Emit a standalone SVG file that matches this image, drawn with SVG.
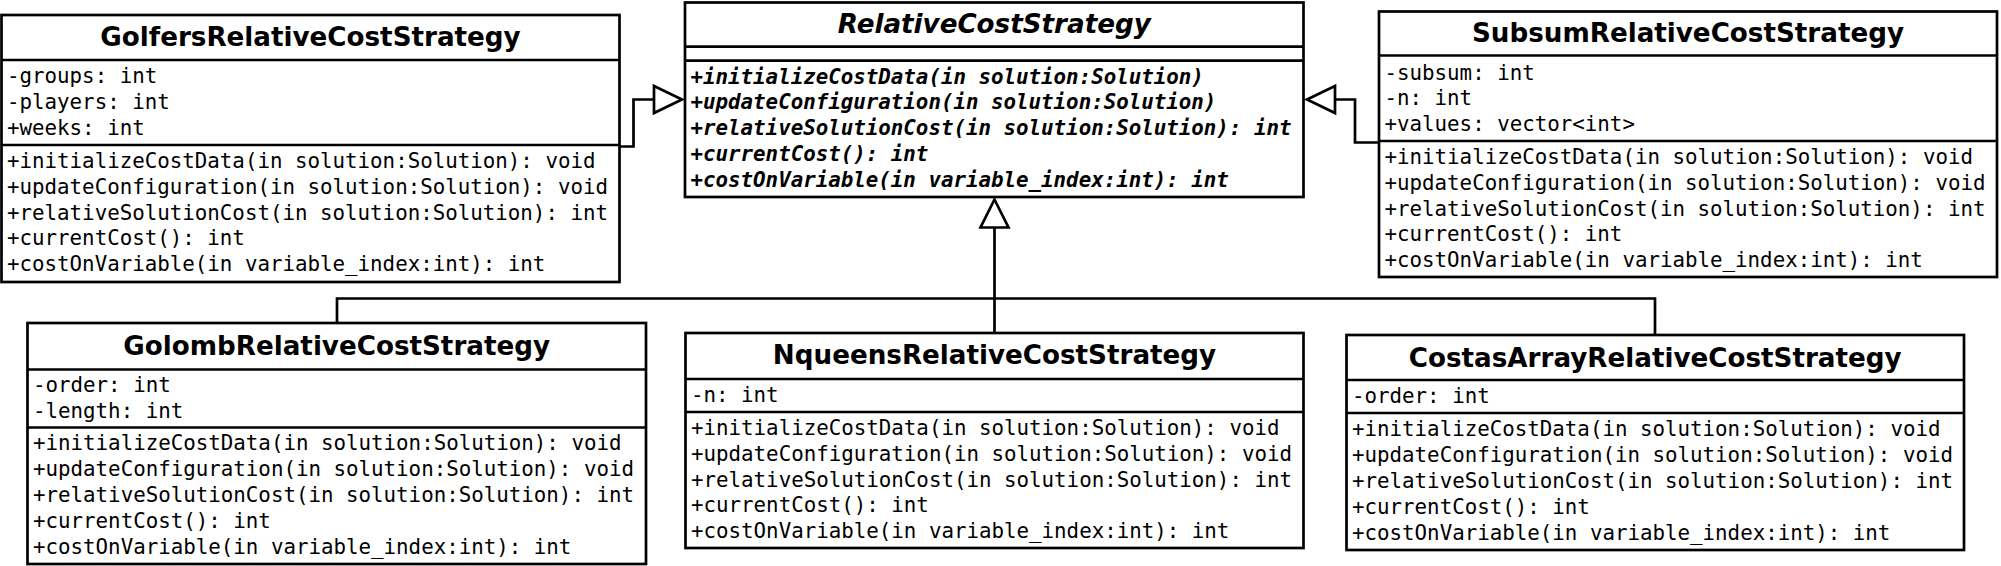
<svg xmlns="http://www.w3.org/2000/svg" width="2001" height="566" viewBox="0 0 2001 566">
<style>
.box{fill:#fff;stroke:#000;stroke-width:2.7}
.sep{stroke:#000;stroke-width:2.7}
.title{font-family:"DejaVu Sans",sans-serif;font-weight:bold;font-size:26.2px;text-anchor:middle;fill:#000}
.abs{font-style:oblique}
.m{font-family:"DejaVu Sans Mono",monospace;font-size:20.8px;fill:#000}
.mi{font-weight:bold;font-style:oblique}
.con{fill:none;stroke:#000;stroke-width:2.7}
.head{fill:#fff;stroke:#000;stroke-width:2.7;stroke-linejoin:miter}
</style>
<rect width="2001" height="566" fill="#fff"/>
<g id="connectors">
<polyline class="con" points="620,146.5 633.5,146.5 633.5,99.5 654,99.5"/>
<polygon class="head" points="654,86 682,99.5 654,113"/>
<polyline class="con" points="1379,142.5 1355,142.5 1355,99.5 1335,99.5"/>
<polygon class="head" points="1335,86 1307,99.5 1335,113"/>
<line class="con" x1="994.5" y1="227.5" x2="994.5" y2="333"/>
<polygon class="head" points="994.5,199.5 1008.5,227.5 980.5,227.5"/>
<polyline class="con" points="337,323 337,298.5 1655,298.5 1655,335"/>
</g>
<g id="GolfersRelativeCostStrategy">
<rect class="box" x="1.5" y="15" width="618" height="267"/>
<line class="sep" x1="1.5" y1="60" x2="619.5" y2="60"/>
<line class="sep" x1="1.5" y1="145" x2="619.5" y2="145"/>
<text class="title" x="310.5" y="45.5">GolfersRelativeCostStrategy</text>
<text class="m" x="7" y="83">-groups: int</text>
<text class="m" x="7" y="108.8">-players: int</text>
<text class="m" x="7" y="134.6">+weeks: int</text>
<text class="m" x="7" y="168">+initializeCostData(in solution:Solution): void</text>
<text class="m" x="7" y="193.8">+updateConfiguration(in solution:Solution): void</text>
<text class="m" x="7" y="219.6">+relativeSolutionCost(in solution:Solution): int</text>
<text class="m" x="7" y="245.4">+currentCost(): int</text>
<text class="m" x="7" y="271.2">+costOnVariable(in variable_index:int): int</text>
</g>
<g id="RelativeCostStrategy">
<rect class="box" x="685" y="2.5" width="618.5" height="194.5"/>
<line class="sep" x1="685" y1="46.7" x2="1303.5" y2="46.7"/>
<line class="sep" x1="685" y1="60.7" x2="1303.5" y2="60.7"/>
<text class="title abs" x="994.3" y="32.5">RelativeCostStrategy</text>
<text class="m mi" x="690.5" y="83.5">+initializeCostData(in solution:Solution)</text>
<text class="m mi" x="690.5" y="109.3">+updateConfiguration(in solution:Solution)</text>
<text class="m mi" x="690.5" y="135.1">+relativeSolutionCost(in solution:Solution): int</text>
<text class="m mi" x="690.5" y="160.9">+currentCost(): int</text>
<text class="m mi" x="690.5" y="186.7">+costOnVariable(in variable_index:int): int</text>
</g>
<g id="SubsumRelativeCostStrategy">
<rect class="box" x="1379" y="11.5" width="618" height="265.5"/>
<line class="sep" x1="1379" y1="55.5" x2="1997" y2="55.5"/>
<line class="sep" x1="1379" y1="141" x2="1997" y2="141"/>
<text class="title" x="1688" y="41.7">SubsumRelativeCostStrategy</text>
<text class="m" x="1384.5" y="79.5">-subsum: int</text>
<text class="m" x="1384.5" y="105.3">-n: int</text>
<text class="m" x="1384.5" y="131.1">+values: vector&lt;int&gt;</text>
<text class="m" x="1384.5" y="164">+initializeCostData(in solution:Solution): void</text>
<text class="m" x="1384.5" y="189.8">+updateConfiguration(in solution:Solution): void</text>
<text class="m" x="1384.5" y="215.6">+relativeSolutionCost(in solution:Solution): int</text>
<text class="m" x="1384.5" y="241.4">+currentCost(): int</text>
<text class="m" x="1384.5" y="267.2">+costOnVariable(in variable_index:int): int</text>
</g>
<g id="GolombRelativeCostStrategy">
<rect class="box" x="27.5" y="323" width="618.5" height="241"/>
<line class="sep" x1="27.5" y1="369.5" x2="646" y2="369.5"/>
<line class="sep" x1="27.5" y1="427.5" x2="646" y2="427.5"/>
<text class="title" x="336.7" y="355">GolombRelativeCostStrategy</text>
<text class="m" x="33" y="392">-order: int</text>
<text class="m" x="33" y="417.8">-length: int</text>
<text class="m" x="33" y="450.3">+initializeCostData(in solution:Solution): void</text>
<text class="m" x="33" y="476.1">+updateConfiguration(in solution:Solution): void</text>
<text class="m" x="33" y="501.9">+relativeSolutionCost(in solution:Solution): int</text>
<text class="m" x="33" y="527.7">+currentCost(): int</text>
<text class="m" x="33" y="553.5">+costOnVariable(in variable_index:int): int</text>
</g>
<g id="NqueensRelativeCostStrategy">
<rect class="box" x="685.5" y="333" width="618" height="215"/>
<line class="sep" x1="685.5" y1="379" x2="1303.5" y2="379"/>
<line class="sep" x1="685.5" y1="412" x2="1303.5" y2="412"/>
<text class="title" x="994.5" y="363.5">NqueensRelativeCostStrategy</text>
<text class="m" x="691" y="402.3">-n: int</text>
<text class="m" x="691" y="435">+initializeCostData(in solution:Solution): void</text>
<text class="m" x="691" y="460.8">+updateConfiguration(in solution:Solution): void</text>
<text class="m" x="691" y="486.6">+relativeSolutionCost(in solution:Solution): int</text>
<text class="m" x="691" y="512.4">+currentCost(): int</text>
<text class="m" x="691" y="538.2">+costOnVariable(in variable_index:int): int</text>
</g>
<g id="CostasArrayRelativeCostStrategy">
<rect class="box" x="1346.5" y="335" width="617.5" height="215"/>
<line class="sep" x1="1346.5" y1="380" x2="1964" y2="380"/>
<line class="sep" x1="1346.5" y1="413" x2="1964" y2="413"/>
<text class="title" x="1655.2" y="366.5">CostasArrayRelativeCostStrategy</text>
<text class="m" x="1352" y="403.3">-order: int</text>
<text class="m" x="1352" y="436.3">+initializeCostData(in solution:Solution): void</text>
<text class="m" x="1352" y="462.1">+updateConfiguration(in solution:Solution): void</text>
<text class="m" x="1352" y="487.9">+relativeSolutionCost(in solution:Solution): int</text>
<text class="m" x="1352" y="513.7">+currentCost(): int</text>
<text class="m" x="1352" y="539.5">+costOnVariable(in variable_index:int): int</text>
</g>
</svg>
